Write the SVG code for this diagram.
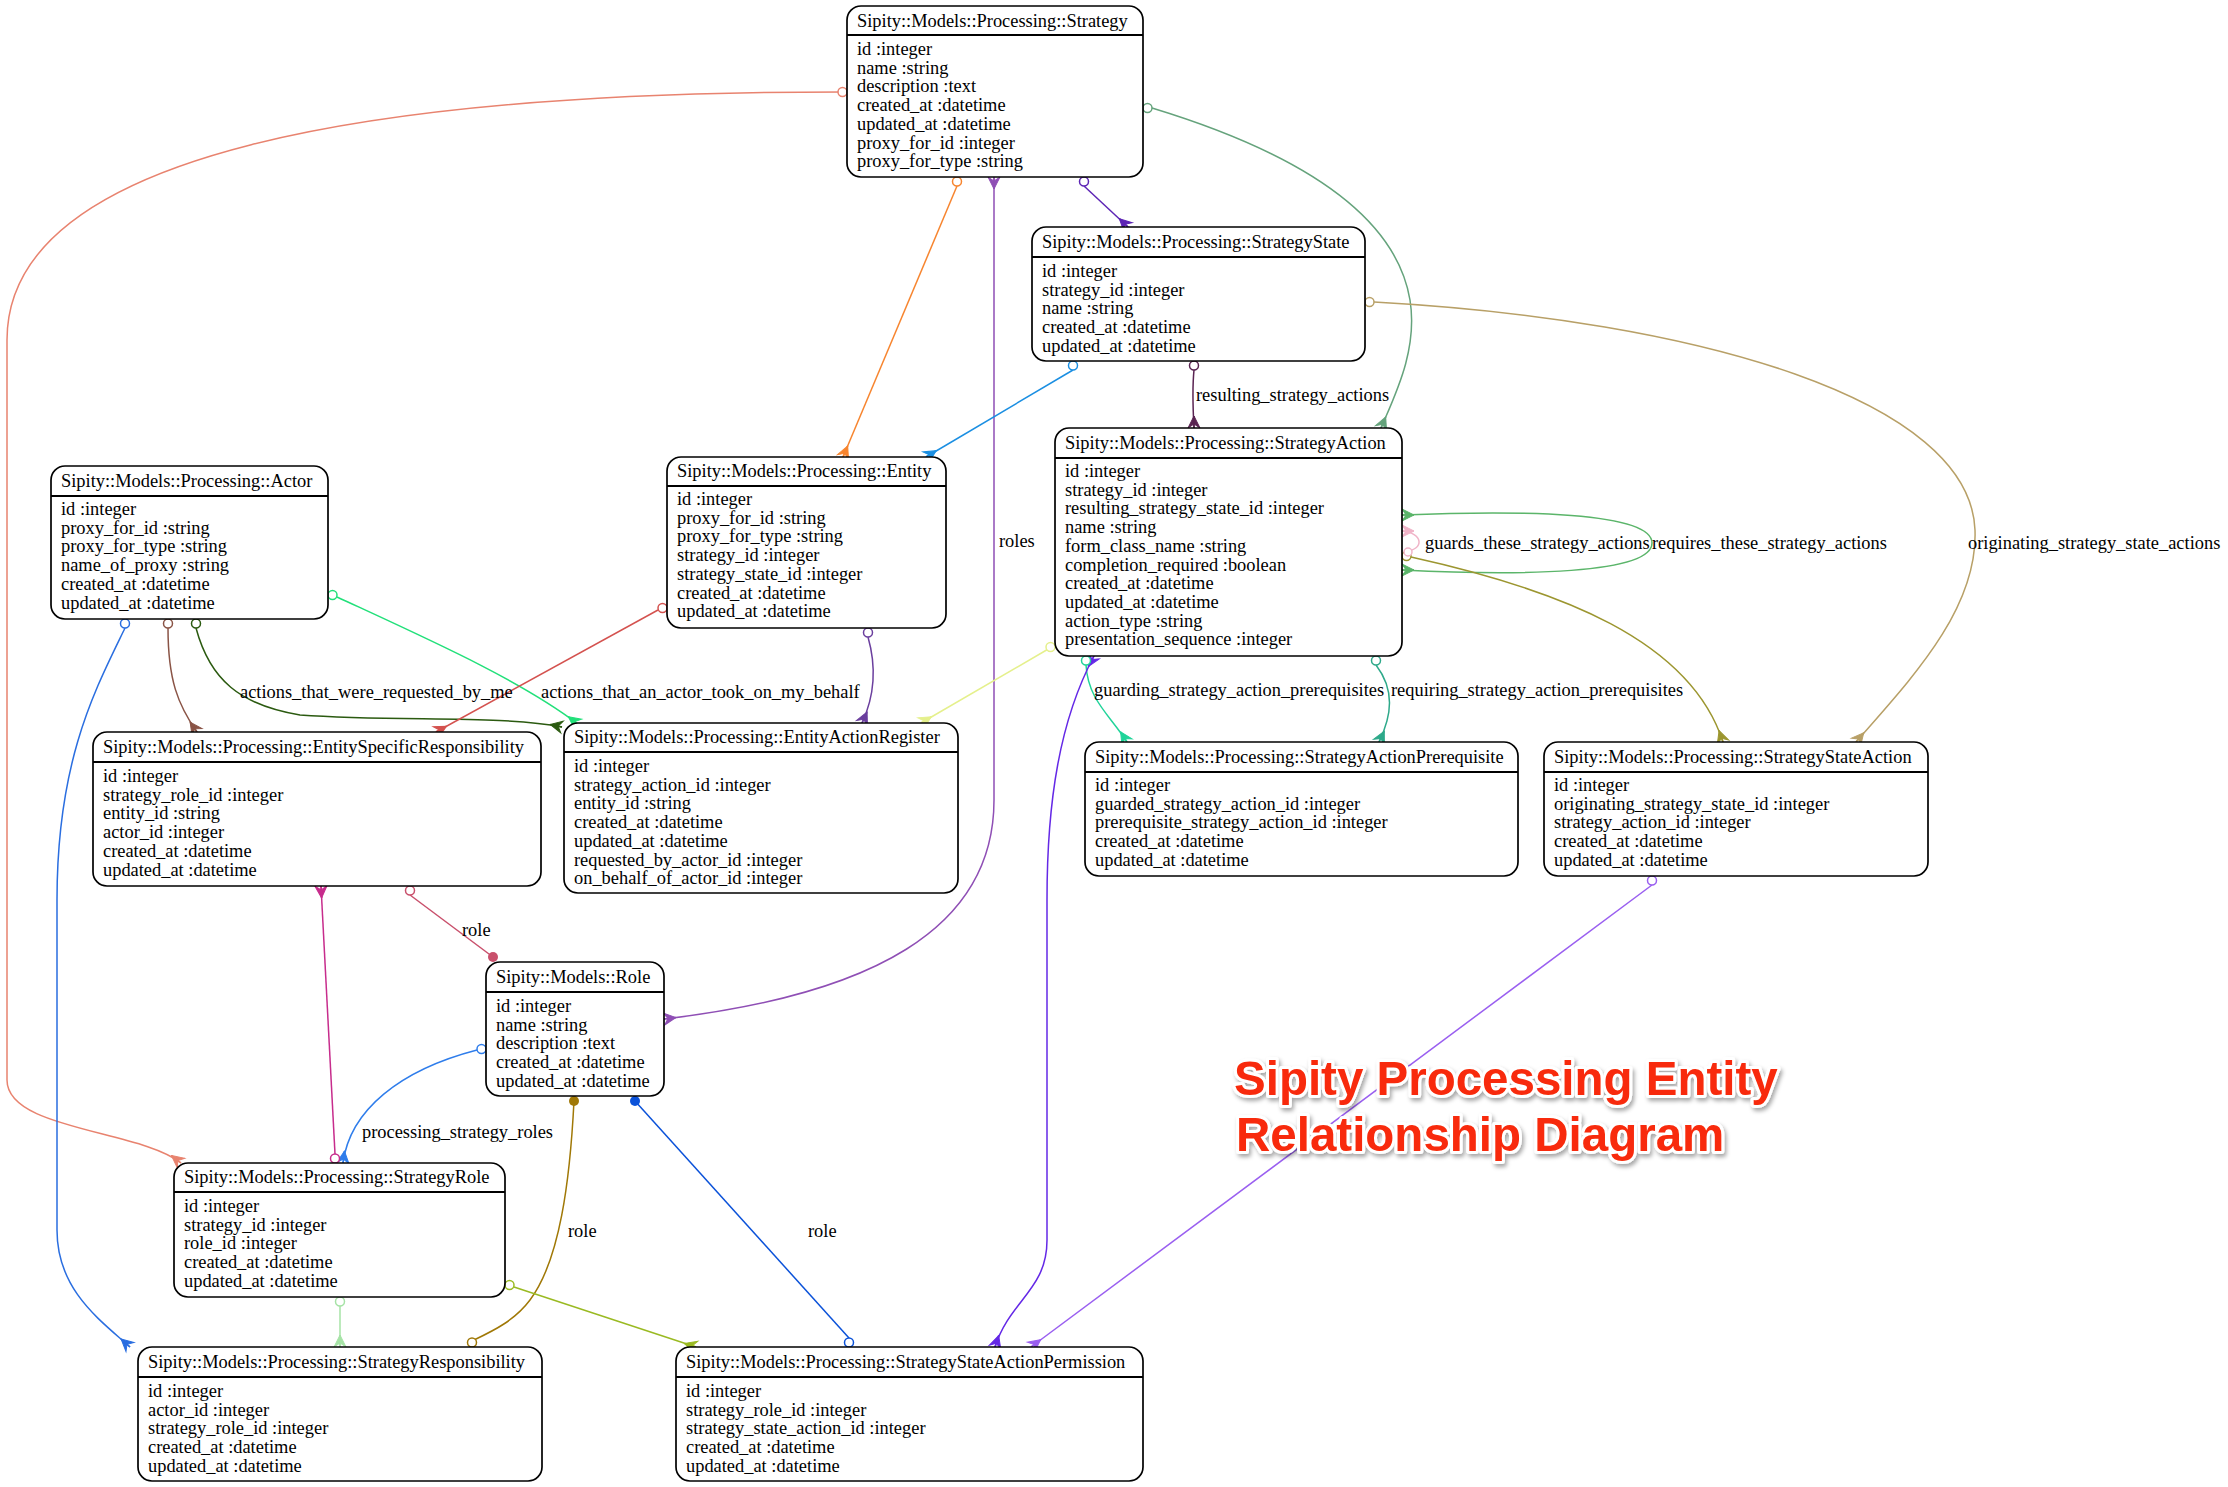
<svg xmlns="http://www.w3.org/2000/svg" xmlns:xlink="http://www.w3.org/1999/xlink" width="2228" height="1487" viewBox="0 0 2228 1487">
<style>
.node rect{fill:#fff;stroke:#000;stroke-width:1.7}
.node line{stroke:#000;stroke-width:2}
.node text{font-family:"Liberation Serif",serif;font-size:18.4px;fill:#000}
.lbl{font-family:"Liberation Serif",serif;font-size:18.4px;fill:#000}
#edges path{fill:none;stroke-width:1.5}
.od{fill:#fff;stroke-width:1.5}
.title{font-family:"Liberation Sans",Arial,sans-serif;font-weight:bold;font-size:47.5px;fill:#f82a08;stroke:#fff;stroke-width:6;stroke-linejoin:round;paint-order:stroke}
</style>
<defs>
<g id="crow"><path d="M-12,0 L0,-6 L-4,0 L0,6 Z" fill="currentColor" stroke="currentColor" stroke-width="1"/><path d="M-12,0 L0,0" stroke="currentColor" stroke-width="1.5"/></g>
<filter id="sh" x="-10%" y="-30%" width="120%" height="160%"><feDropShadow dx="2" dy="3" stdDeviation="2" flood-color="#000" flood-opacity="0.35"/></filter>
</defs>
<rect width="2228" height="1487" fill="#fff"/>

<g id="edges">
<!-- paths -->
<path d="M842,92 C380,92 7,150 7,340 L7,1080 C7,1130 140,1130 181,1163" stroke="#e8836f"/>
<path d="M957,186 L843,457" stroke="#f7852f"/>
<path d="M994,178 L994,800 C994,930 870,995 664,1019" stroke="#8f4fb5"/>
<path d="M1084,186 L1128,227" stroke="#5d25b5"/>
<path d="M1152,108 C1290,150 1395,210 1410,300 C1418,350 1395,395 1381,428" stroke="#65a37c"/>
<path d="M1194,370 C1192,390 1193,410 1194,428" stroke="#5a2452"/>
<path d="M1073,370 L926,457" stroke="#1b8fe2"/>
<path d="M1374,302 C1700,320 1970,400 1975,530 C1978,610 1910,680 1856,742" stroke="#b8a067"/>
<path d="M1402,515 C1520,510 1652,512 1652,543 C1652,574 1520,576 1402,570" stroke="#5bb56a"/>
<path d="M1402,531 C1424,533 1424,550 1406,551" stroke="#f0b4c8"/>
<path d="M1411,557 C1560,590 1690,640 1723,742" stroke="#9c9630"/>
<path d="M1050,648 L921,723" stroke="#e5f08c"/>
<path d="M1086,665 C1088,700 1110,715 1127,742" stroke="#21d49a"/>
<path d="M1376,665 C1395,690 1392,715 1379,742" stroke="#2ea98a"/>
<path d="M1094,656 C1060,720 1047,800 1047,900 L1047,1240 C1047,1290 1010,1300 995,1347" stroke="#6428e6"/>
<path d="M1652,885 L1031,1347" stroke="#9a5ff0"/>
<path d="M125,628 C95,690 57,760 57,900 L57,1230 C57,1290 100,1320 130,1347" stroke="#2a6ee0"/>
<path d="M168,628 C168,680 178,705 197,732" stroke="#8a5446"/>
<path d="M196,628 C210,680 240,705 300,715 C400,722 500,715 562,727" stroke="#2b5a10"/>
<path d="M337,597 C430,640 520,680 578,724" stroke="#22e07a"/>
<path d="M658,610 L436,732" stroke="#d4524f"/>
<path d="M868,637 C876,665 875,695 862,723" stroke="#6b3f9e"/>
<path d="M321,886 L335,1154" stroke="#c72c8c"/>
<path d="M410,895 L493,957" stroke="#c9506c"/>
<path d="M477,1050 C400,1070 350,1110 343,1163" stroke="#2f7deb"/>
<path d="M574,1101 C570,1180 560,1260 530,1300 C515,1320 495,1330 474,1340" stroke="#a07806"/>
<path d="M635,1101 L849,1338" stroke="#0b52d9"/>
<path d="M340,1306 L340,1347" stroke="#a6e3a6"/>
<path d="M514,1287 L696,1347" stroke="#9aba22"/>
<!-- crows -->
<use href="#crow" transform="translate(181,1163) rotate(38)" color="#e8836f"/>
<use href="#crow" transform="translate(843,457) rotate(113)" color="#f7852f"/>
<use href="#crow" transform="translate(994,177) rotate(-90)" color="#8f4fb5"/>
<use href="#crow" transform="translate(664,1019) rotate(173)" color="#8f4fb5"/>
<use href="#crow" transform="translate(1128,227) rotate(44)" color="#5d25b5"/>
<use href="#crow" transform="translate(1381,428) rotate(113)" color="#65a37c"/>
<use href="#crow" transform="translate(1194,428) rotate(90)" color="#5a2452"/>
<use href="#crow" transform="translate(926,457) rotate(148)" color="#1b8fe2"/>
<use href="#crow" transform="translate(1856,742) rotate(130)" color="#b8a067"/>
<use href="#crow" transform="translate(1402,515) rotate(180)" color="#5bb56a"/>
<use href="#crow" transform="translate(1402,570) rotate(180)" color="#5bb56a"/>
<use href="#crow" transform="translate(1402,531) rotate(180)" color="#f0b4c8"/>
<use href="#crow" transform="translate(1723,742) rotate(71)" color="#9c9630"/>
<use href="#crow" transform="translate(921,723) rotate(149)" color="#e5f08c"/>
<use href="#crow" transform="translate(1127,742) rotate(58)" color="#21d49a"/>
<use href="#crow" transform="translate(1379,742) rotate(116)" color="#2ea98a"/>
<use href="#crow" transform="translate(1094,656) rotate(-62)" color="#6428e6"/>
<use href="#crow" transform="translate(995,1347) rotate(108)" color="#6428e6"/>
<use href="#crow" transform="translate(1031,1347) rotate(143)" color="#9a5ff0"/>
<use href="#crow" transform="translate(130,1347) rotate(42)" color="#2a6ee0"/>
<use href="#crow" transform="translate(197,732) rotate(55)" color="#8a5446"/>
<use href="#crow" transform="translate(562,727) rotate(12)" color="#2b5a10"/>
<use href="#crow" transform="translate(578,724) rotate(37)" color="#22e07a"/>
<use href="#crow" transform="translate(436,732) rotate(151)" color="#d4524f"/>
<use href="#crow" transform="translate(862,723) rotate(115)" color="#6b3f9e"/>
<use href="#crow" transform="translate(321,886) rotate(-93)" color="#c72c8c"/>
<use href="#crow" transform="translate(343,1163) rotate(97)" color="#2f7deb"/>
<use href="#crow" transform="translate(340,1347) rotate(90)" color="#a6e3a6"/>
<use href="#crow" transform="translate(696,1347) rotate(17)" color="#9aba22"/>
<!-- circles -->
<circle class="od" cx="842.5" cy="92" r="4.5" stroke="#e8836f"/>
<circle class="od" cx="957" cy="181.5" r="4.5" stroke="#f7852f"/>
<circle class="od" cx="1084" cy="181.5" r="4.5" stroke="#5d25b5"/>
<circle class="od" cx="1147.5" cy="108" r="4.5" stroke="#65a37c"/>
<circle class="od" cx="1194" cy="365.5" r="4.5" stroke="#5a2452"/>
<circle class="od" cx="1073" cy="365.5" r="4.5" stroke="#1b8fe2"/>
<circle class="od" cx="1369.5" cy="302" r="4.5" stroke="#b8a067"/>
<circle class="od" cx="1406.5" cy="556" r="4.5" stroke="#9c9630"/>
<circle class="od" cx="1050.5" cy="647" r="4.5" stroke="#e5f08c"/>
<circle class="od" cx="1086" cy="660.5" r="4.5" stroke="#21d49a"/>
<circle class="od" cx="1376" cy="660.5" r="4.5" stroke="#2ea98a"/>
<circle class="od" cx="1652" cy="880.5" r="4.5" stroke="#9a5ff0"/>
<circle class="od" cx="125" cy="623.5" r="4.5" stroke="#2a6ee0"/>
<circle class="od" cx="168" cy="623.5" r="4.5" stroke="#8a5446"/>
<circle class="od" cx="196" cy="623.5" r="4.5" stroke="#2b5a10"/>
<circle class="od" cx="332.5" cy="595" r="4.5" stroke="#22e07a"/>
<circle class="od" cx="662.5" cy="608" r="4.5" stroke="#d4524f"/>
<circle class="od" cx="868" cy="632.5" r="4.5" stroke="#6b3f9e"/>
<circle class="od" cx="335" cy="1158.5" r="4.5" stroke="#c72c8c"/>
<circle class="od" cx="410" cy="890.5" r="4.5" stroke="#c9506c"/>
<circle class="od" cx="481.5" cy="1049" r="4.5" stroke="#2f7deb"/>
<circle class="od" cx="472" cy="1342.5" r="4.5" stroke="#a07806"/>
<circle class="od" cx="849" cy="1342.5" r="4.5" stroke="#0b52d9"/>
<circle class="od" cx="340" cy="1301.5" r="4.5" stroke="#a6e3a6"/>
<circle class="od" cx="509.5" cy="1285" r="4.5" stroke="#9aba22"/>
<circle class="od" cx="1408" cy="552" r="4" stroke="#f0b4c8"/>
<!-- filled dots -->
<circle cx="493" cy="957" r="5" fill="#c9506c"/>
<circle cx="574" cy="1101" r="5" fill="#a07806"/>
<circle cx="635" cy="1101" r="5" fill="#0b52d9"/>
<!-- labels -->
<text class="lbl" x="999" y="547">roles</text>
<text class="lbl" x="1196" y="401">resulting_strategy_actions</text>
<text class="lbl" x="1968" y="549">originating_strategy_state_actions</text>
<text class="lbl" x="1425" y="549">guards_these_strategy_actions</text>
<text class="lbl" x="1652" y="549">requires_these_strategy_actions</text>
<text class="lbl" x="1094" y="696">guarding_strategy_action_prerequisites</text>
<text class="lbl" x="1391" y="696">requiring_strategy_action_prerequisites</text>
<text class="lbl" x="240" y="698">actions_that_were_requested_by_me</text>
<text class="lbl" x="541" y="698">actions_that_an_actor_took_on_my_behalf</text>
<text class="lbl" x="462" y="936">role</text>
<text class="lbl" x="362" y="1138">processing_strategy_roles</text>
<text class="lbl" x="568" y="1237">role</text>
<text class="lbl" x="808" y="1237">role</text>
</g>

<g id="n-strategy" class="node">
<rect x="847" y="6" width="296" height="171" rx="14"/>
<line x1="847" y1="35" x2="1143" y2="35"/>
<text x="857" y="27">Sipity::Models::Processing::Strategy</text>
<text x="857" y="55">id :integer<tspan x="857" dy="18.7">name :string</tspan><tspan x="857" dy="18.7">description :text</tspan><tspan x="857" dy="18.7">created_at :datetime</tspan><tspan x="857" dy="18.7">updated_at :datetime</tspan><tspan x="857" dy="18.7">proxy_for_id :integer</tspan><tspan x="857" dy="18.7">proxy_for_type :string</tspan></text>
</g>

<g id="n-strategystate" class="node">
<rect x="1032" y="227" width="333" height="134" rx="14"/>
<line x1="1032" y1="257" x2="1365" y2="257"/>
<text x="1042" y="248">Sipity::Models::Processing::StrategyState</text>
<text x="1042" y="277">id :integer<tspan x="1042" dy="18.7">strategy_id :integer</tspan><tspan x="1042" dy="18.7">name :string</tspan><tspan x="1042" dy="18.7">created_at :datetime</tspan><tspan x="1042" dy="18.7">updated_at :datetime</tspan></text>
</g>

<g id="n-strategyaction" class="node">
<rect x="1055" y="428" width="347" height="228" rx="14"/>
<line x1="1055" y1="458" x2="1402" y2="458"/>
<text x="1065" y="449">Sipity::Models::Processing::StrategyAction</text>
<text x="1065" y="477">id :integer<tspan x="1065" dy="18.7">strategy_id :integer</tspan><tspan x="1065" dy="18.7">resulting_strategy_state_id :integer</tspan><tspan x="1065" dy="18.7">name :string</tspan><tspan x="1065" dy="18.7">form_class_name :string</tspan><tspan x="1065" dy="18.7">completion_required :boolean</tspan><tspan x="1065" dy="18.7">created_at :datetime</tspan><tspan x="1065" dy="18.7">updated_at :datetime</tspan><tspan x="1065" dy="18.7">action_type :string</tspan><tspan x="1065" dy="18.7">presentation_sequence :integer</tspan></text>
</g>

<g id="n-actor" class="node">
<rect x="51" y="466" width="277" height="153" rx="14"/>
<line x1="51" y1="496" x2="328" y2="496"/>
<text x="61" y="487">Sipity::Models::Processing::Actor</text>
<text x="61" y="515">id :integer<tspan x="61" dy="18.7">proxy_for_id :string</tspan><tspan x="61" dy="18.7">proxy_for_type :string</tspan><tspan x="61" dy="18.7">name_of_proxy :string</tspan><tspan x="61" dy="18.7">created_at :datetime</tspan><tspan x="61" dy="18.7">updated_at :datetime</tspan></text>
</g>

<g id="n-entity" class="node">
<rect x="667" y="457" width="279" height="171" rx="14"/>
<line x1="667" y1="486" x2="946" y2="486"/>
<text x="677" y="477">Sipity::Models::Processing::Entity</text>
<text x="677" y="505">id :integer<tspan x="677" dy="18.7">proxy_for_id :string</tspan><tspan x="677" dy="18.7">proxy_for_type :string</tspan><tspan x="677" dy="18.7">strategy_id :integer</tspan><tspan x="677" dy="18.7">strategy_state_id :integer</tspan><tspan x="677" dy="18.7">created_at :datetime</tspan><tspan x="677" dy="18.7">updated_at :datetime</tspan></text>
</g>

<g id="n-entityspecificresponsibility" class="node">
<rect x="93" y="732" width="448" height="154" rx="14"/>
<line x1="93" y1="762" x2="541" y2="762"/>
<text x="103" y="753">Sipity::Models::Processing::EntitySpecificResponsibility</text>
<text x="103" y="782">id :integer<tspan x="103" dy="18.7">strategy_role_id :integer</tspan><tspan x="103" dy="18.7">entity_id :string</tspan><tspan x="103" dy="18.7">actor_id :integer</tspan><tspan x="103" dy="18.7">created_at :datetime</tspan><tspan x="103" dy="18.7">updated_at :datetime</tspan></text>
</g>

<g id="n-entityactionregister" class="node">
<rect x="564" y="723" width="394" height="170" rx="14"/>
<line x1="564" y1="752" x2="958" y2="752"/>
<text x="574" y="743">Sipity::Models::Processing::EntityActionRegister</text>
<text x="574" y="772">id :integer<tspan x="574" dy="18.7">strategy_action_id :integer</tspan><tspan x="574" dy="18.7">entity_id :string</tspan><tspan x="574" dy="18.7">created_at :datetime</tspan><tspan x="574" dy="18.7">updated_at :datetime</tspan><tspan x="574" dy="18.7">requested_by_actor_id :integer</tspan><tspan x="574" dy="18.7">on_behalf_of_actor_id :integer</tspan></text>
</g>

<g id="n-strategyactionprerequisite" class="node">
<rect x="1085" y="742" width="433" height="134" rx="14"/>
<line x1="1085" y1="772" x2="1518" y2="772"/>
<text x="1095" y="763">Sipity::Models::Processing::StrategyActionPrerequisite</text>
<text x="1095" y="791">id :integer<tspan x="1095" dy="18.7">guarded_strategy_action_id :integer</tspan><tspan x="1095" dy="18.7">prerequisite_strategy_action_id :integer</tspan><tspan x="1095" dy="18.7">created_at :datetime</tspan><tspan x="1095" dy="18.7">updated_at :datetime</tspan></text>
</g>

<g id="n-strategystateaction" class="node">
<rect x="1544" y="742" width="384" height="134" rx="14"/>
<line x1="1544" y1="772" x2="1928" y2="772"/>
<text x="1554" y="763">Sipity::Models::Processing::StrategyStateAction</text>
<text x="1554" y="791">id :integer<tspan x="1554" dy="18.7">originating_strategy_state_id :integer</tspan><tspan x="1554" dy="18.7">strategy_action_id :integer</tspan><tspan x="1554" dy="18.7">created_at :datetime</tspan><tspan x="1554" dy="18.7">updated_at :datetime</tspan></text>
</g>

<g id="n-role" class="node">
<rect x="486" y="962" width="178" height="134" rx="14"/>
<line x1="486" y1="992" x2="664" y2="992"/>
<text x="496" y="983">Sipity::Models::Role</text>
<text x="496" y="1012">id :integer<tspan x="496" dy="18.7">name :string</tspan><tspan x="496" dy="18.7">description :text</tspan><tspan x="496" dy="18.7">created_at :datetime</tspan><tspan x="496" dy="18.7">updated_at :datetime</tspan></text>
</g>

<g id="n-strategyrole" class="node">
<rect x="174" y="1163" width="331" height="134" rx="14"/>
<line x1="174" y1="1192" x2="505" y2="1192"/>
<text x="184" y="1183">Sipity::Models::Processing::StrategyRole</text>
<text x="184" y="1212">id :integer<tspan x="184" dy="18.7">strategy_id :integer</tspan><tspan x="184" dy="18.7">role_id :integer</tspan><tspan x="184" dy="18.7">created_at :datetime</tspan><tspan x="184" dy="18.7">updated_at :datetime</tspan></text>
</g>

<g id="n-strategyresponsibility" class="node">
<rect x="138" y="1347" width="404" height="134" rx="14"/>
<line x1="138" y1="1377" x2="542" y2="1377"/>
<text x="148" y="1368">Sipity::Models::Processing::StrategyResponsibility</text>
<text x="148" y="1397">id :integer<tspan x="148" dy="18.7">actor_id :integer</tspan><tspan x="148" dy="18.7">strategy_role_id :integer</tspan><tspan x="148" dy="18.7">created_at :datetime</tspan><tspan x="148" dy="18.7">updated_at :datetime</tspan></text>
</g>

<g id="n-strategystateactionpermission" class="node">
<rect x="676" y="1347" width="467" height="134" rx="14"/>
<line x1="676" y1="1377" x2="1143" y2="1377"/>
<text x="686" y="1368">Sipity::Models::Processing::StrategyStateActionPermission</text>
<text x="686" y="1397">id :integer<tspan x="686" dy="18.7">strategy_role_id :integer</tspan><tspan x="686" dy="18.7">strategy_state_action_id :integer</tspan><tspan x="686" dy="18.7">created_at :datetime</tspan><tspan x="686" dy="18.7">updated_at :datetime</tspan></text>
</g>

<g id="title" filter="url(#sh)">
<text class="title" x="1234" y="1095">Sipity Processing Entity</text>
<text class="title" x="1236" y="1151">Relationship Diagram</text>
</g>
</svg>
